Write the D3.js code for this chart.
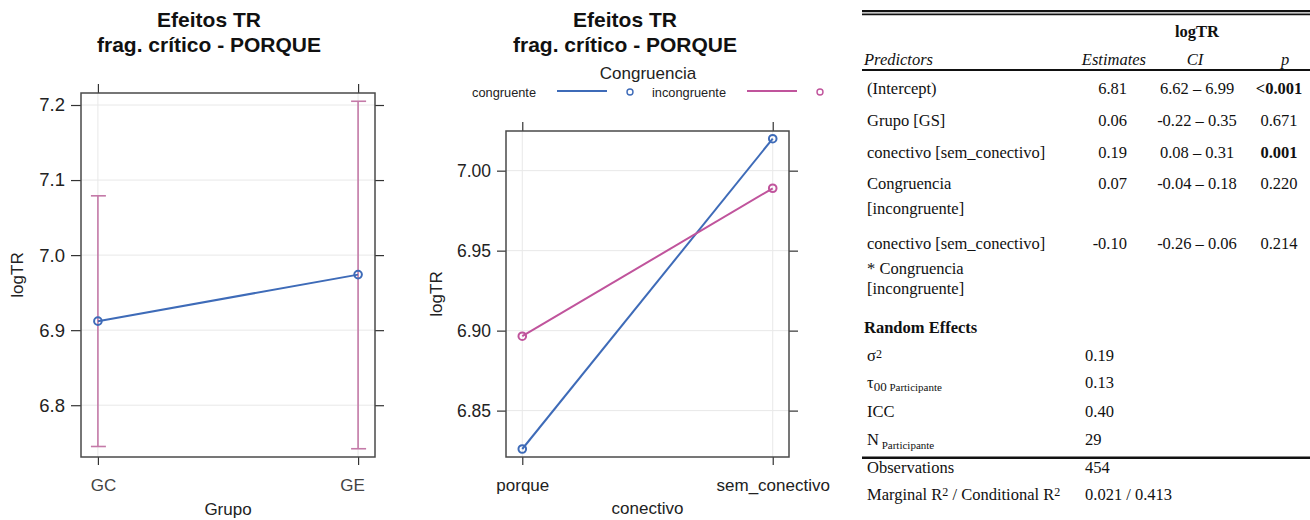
<!DOCTYPE html>
<html>
  <head>
    <style>
      body { margin: 0; background: #fff; }
      svg { display: block; }
      .tick text { font-family: "Liberation Sans", Arial, sans-serif; }
    </style>
  </head>

  <body>

    <svg class="surface" width="1310" height="520"></svg>

    <script src="https://cdn.jsdelivr.net/npm/d3@7/dist/d3.min.js" charset="utf-8"></script>
    <script>

      // --- panel 1: Grupo effect
      const grupoCats = ['GC', 'GE']
      const grupoFit = [6.912, 6.974]
      const grupoLower = [6.745, 6.742]
      const grupoUpper = [7.079, 7.205]
      const grupoTicks = [6.8, 6.9, 7.0, 7.1, 7.2]
      const grupoRange = [6.731, 7.216]

      // --- panel 2: conectivo x Congruencia
      const conectivoCats = ['porque', 'sem_conectivo']
      const congLevels = ['congruente', 'incongruente']
      const congruenteFit = [6.826, 7.020]
      const incongruenteFit = [6.8965, 6.989]
      const conectivoTicks = [6.85, 6.90, 6.95, 7.00]
      const conectivoRange = [6.821, 7.0248]

      // --- model table
      const predictors = [
        ['(Intercept)'],
        ['Grupo [GS]'],
        ['conectivo [sem_conectivo]'],
        ['Congruencia', '[incongruente]'],
        ['conectivo [sem_conectivo]', '* Congruencia', '[incongruente]']
      ]
      const estimates = ['6.81', '0.06', '0.19', '0.07', '-0.10']
      const ciText = ['6.62 – 6.99', '-0.22 – 0.35', '0.08 – 0.31', '-0.04 – 0.18', '-0.26 – 0.06']
      const pText = ['<0.001', '0.671', '0.001', '0.220', '0.214']
      const pBold = [true, false, true, false, false]
      const randomValues = ['0.19', '0.13', '0.40', '29']
      const observations = '454'
      const r2Text = '0.021 / 0.413'

      const blue = '#3e6bb8'
      const pink = '#c0549c'
      const barPink = '#c47aa8'
      const gridCol = '#e8e8e8'
      const boxCol = '#4a4a4a'
      const sans = '"Liberation Sans", Arial, sans-serif'
      const serif = '"Liberation Serif", "Times New Roman", serif'

      const surface = d3.select('.surface')

      function title(cx) {
        const t = surface.append('text')
          .attr('text-anchor', 'middle')
          .attr('font-family', sans)
          .attr('font-weight', 'bold')
          .attr('font-size', 21)
          .attr('fill', '#111')
        t.append('tspan').attr('x', cx).attr('y', 27).text('Efeitos TR')
        t.append('tspan').attr('x', cx).attr('y', 52).text('frag. crítico - PORQUE')
      }

      function frame(g, box, x, y, ticks, fmt, fs, tlen) {
        // grid
        g.selectAll('.hgrid').data(ticks).enter().append('line')
          .attr('x1', box.l).attr('x2', box.r)
          .attr('y1', d => y(d)).attr('y2', d => y(d))
          .attr('stroke', gridCol)
        g.selectAll('.vgrid').data(x.domain()).enter().append('line')
          .attr('y1', box.t).attr('y2', box.b)
          .attr('x1', d => x(d)).attr('x2', d => x(d))
          .attr('stroke', gridCol)

        const left = g.append('g').attr('transform', `translate(${box.l},0)`)
          .call(d3.axisLeft(y).tickValues(ticks).tickFormat(d3.format(fmt)).tickSize(tlen).tickPadding(6))
        const right = g.append('g').attr('transform', `translate(${box.r},0)`)
          .call(d3.axisRight(y).tickValues(ticks).tickFormat('').tickSize(9))
        const top = g.append('g').attr('transform', `translate(0,${box.t})`)
          .call(d3.axisTop(x).tickFormat('').tickSize(9))
        const bottom = g.append('g').attr('transform', `translate(0,${box.b})`)
          .call(d3.axisBottom(x).tickSize(8).tickPadding(14))
        for (const a of [left, right, top, bottom]) {
          a.select('.domain').remove()
          a.selectAll('.tick line').attr('stroke', '#333').attr('stroke-width', 1.2)
        }
        left.selectAll('text').attr('font-size', fs).attr('fill', '#222')

        g.append('rect')
          .attr('x', box.l).attr('y', box.t)
          .attr('width', box.r - box.l).attr('height', box.b - box.t)
          .attr('fill', 'none').attr('stroke', boxCol).attr('stroke-width', 1.5)
        return bottom
      }

      function yTitle(g, xPos, yMid) {
        g.append('text')
          .attr('transform', `translate(${xPos},${yMid}) rotate(-90)`)
          .attr('text-anchor', 'middle')
          .attr('font-family', sans).attr('font-size', 17).attr('fill', '#222')
          .text('logTR')
      }

      // ============ panel 1
      {
        const box = { l: 81, r: 375, t: 93, b: 457 }
        const g = surface.append('g')
        const x = d3.scalePoint().domain(grupoCats).range([box.l, box.r]).padding(0.065)
        const y = d3.scaleLinear().domain(grupoRange).range([box.b, box.t])
        const bottom = frame(g, box, x, y, grupoTicks, '.1f', 18.5, 10)
        bottom.selectAll('text')
          .attr('font-family', '"Open Sans", sans-serif')
          .attr('font-size', 17).attr('fill', '#444')
          .attr('dx', (d, i) => i === 0 ? 5 : -6)

        // error bars
        const bars = g.selectAll('.bar').data(grupoCats).enter().append('g')
        bars.append('line')
          .attr('x1', d => x(d)).attr('x2', d => x(d))
          .attr('y1', (d, i) => y(grupoLower[i])).attr('y2', (d, i) => y(grupoUpper[i]))
          .attr('stroke', barPink).attr('stroke-width', 1.6)
        for (const arr of [grupoLower, grupoUpper]) {
          bars.append('line')
            .attr('x1', d => x(d) - 7).attr('x2', d => x(d) + 8)
            .attr('y1', (d, i) => y(arr[i])).attr('y2', (d, i) => y(arr[i]))
            .attr('stroke', barPink).attr('stroke-width', 1.6)
        }

        const line = d3.line().x(d => x(d.c)).y(d => y(d.v))
        const pts = grupoCats.map((c, i) => ({ c, v: grupoFit[i] }))
        g.append('path').attr('d', line(pts))
          .attr('fill', 'none').attr('stroke', blue).attr('stroke-width', 2)
        g.selectAll('.pt').data(pts).enter().append('circle')
          .attr('cx', d => x(d.c)).attr('cy', d => y(d.v)).attr('r', 3.8)
          .attr('fill', 'none').attr('stroke', blue).attr('stroke-width', 2)

        yTitle(g, 23, (box.t + box.b) / 2)
        g.append('text').attr('x', (box.l + box.r) / 2).attr('y', 515)
          .attr('text-anchor', 'middle')
          .attr('font-family', sans).attr('font-size', 17).attr('fill', '#222')
          .text('Grupo')
        title(209)
      }

      // ============ panel 2
      {
        const box = { l: 506, r: 789, t: 131, b: 457 }
        const g = surface.append('g')
        const x = d3.scalePoint().domain(conectivoCats).range([box.l, box.r]).padding(0.065)
        const y = d3.scaleLinear().domain(conectivoRange).range([box.b, box.t])
        const bottom = frame(g, box, x, y, conectivoTicks, '.2f', 17.5, 9)
        bottom.selectAll('text')
          .attr('font-size', 17).attr('fill', '#222')

        const series = [
          { name: congLevels[0], vals: congruenteFit, col: blue },
          { name: congLevels[1], vals: incongruenteFit, col: pink }
        ]
        const line = d3.line().x((d, i) => x(conectivoCats[i])).y(d => y(d))
        g.selectAll('.series').data(series).enter().append('path')
          .attr('d', d => line(d.vals))
          .attr('fill', 'none').attr('stroke', d => d.col).attr('stroke-width', 2)
        series.forEach(s => {
          g.selectAll(null).data(s.vals).enter().append('circle')
            .attr('cx', (d, i) => x(conectivoCats[i])).attr('cy', d => y(d)).attr('r', 3.8)
            .attr('fill', 'none').attr('stroke', s.col).attr('stroke-width', 2)
        })

        yTitle(g, 442, (box.t + box.b) / 2)
        g.append('text').attr('x', (box.l + box.r) / 2).attr('y', 514)
          .attr('text-anchor', 'middle')
          .attr('font-family', sans).attr('font-size', 17).attr('fill', '#222')
          .text('conectivo')

        // legend
        g.append('text').attr('x', 648).attr('y', 79)
          .attr('text-anchor', 'middle')
          .attr('font-family', sans).attr('font-size', 17).attr('fill', '#222')
          .text('Congruencia')
        const leg = g.selectAll('.leg').data(series).enter().append('g')
          .attr('transform', (d, i) => `translate(${i === 0 ? 0 : 190},0)`)
        leg.append('text').attr('x', (d, i) => i === 0 ? 472 : 462).attr('y', 97)
          .attr('font-family', sans).attr('font-size', 12.8).attr('fill', '#222')
          .text(d => d.name)
        leg.append('line').attr('x1', 557).attr('x2', 607).attr('y1', 91).attr('y2', 91)
          .attr('stroke', d => d.col).attr('stroke-width', 2)
        leg.append('circle').attr('cx', 630).attr('cy', 92).attr('r', 3)
          .attr('fill', 'none').attr('stroke', d => d.col).attr('stroke-width', 1.4)

        title(625)
      }

      // ============ table
      {
        const g = surface.append('g').attr('font-family', serif).attr('font-size', 16.5).attr('fill', '#111')
        const L = 862, R = 1310, tx = 867
        const hline = (yy, w) => g.append('line').attr('x1', L).attr('x2', R)
          .attr('y1', yy).attr('y2', yy).attr('stroke', '#111').attr('stroke-width', w)
        hline(11.2, 2.3)
        hline(14.4, 1.6)
        hline(70, 2)
        hline(457.7, 2.5)

        g.append('text').attr('x', 1197).attr('y', 37).attr('text-anchor', 'middle')
          .attr('font-weight', 'bold').text('logTR')
        const head = g.append('g').attr('font-style', 'italic')
        head.append('text').attr('x', 864).attr('y', 65).text('Predictors')
        head.append('text').attr('x', 1146).attr('y', 65).attr('text-anchor', 'end').text('Estimates')
        head.append('text').attr('x', 1195).attr('y', 65).attr('text-anchor', 'middle').text('CI')
        head.append('text').attr('x', 1285).attr('y', 65).attr('text-anchor', 'middle').text('p')

        const rowY = [94, 126, 158, 189, 249]
        const lineOff = [0, 25, 45]
        const rows = g.selectAll('.row').data(predictors).enter().append('g')
          .attr('transform', (d, i) => `translate(0,${rowY[i]})`)
        rows.append('text').each(function (d) {
          const t = d3.select(this)
          d.forEach((s, k) => t.append('tspan').attr('x', tx).attr('y', lineOff[k]).text(s))
        })
        rows.append('text').attr('x', 1127).attr('text-anchor', 'end').text((d, i) => estimates[i])
        rows.append('text').attr('x', 1197).attr('text-anchor', 'middle').text((d, i) => ciText[i])
        rows.append('text').attr('x', 1279).attr('text-anchor', 'middle')
          .attr('font-weight', (d, i) => pBold[i] ? 'bold' : 'normal')
          .text((d, i) => pText[i])

        g.append('text').attr('x', 864).attr('y', 333).attr('font-weight', 'bold').text('Random Effects')

        const sub = 11
        const s2 = g.append('text').attr('x', tx).attr('y', 361)
        s2.append('tspan').text('σ')
        s2.append('tspan').attr('font-size', 12).attr('dy', -3).text('2')
        const tau = g.append('text').attr('x', tx).attr('y', 388)
        tau.append('tspan').text('τ')
        tau.append('tspan').attr('font-size', 13).attr('dy', 3).text('00')
        tau.append('tspan').attr('font-size', sub).text(' Participante')
        g.append('text').attr('x', tx).attr('y', 417).text('ICC')
        const nn = g.append('text').attr('x', tx).attr('y', 445)
        nn.append('tspan').text('N')
        nn.append('tspan').attr('font-size', sub).attr('dy', 4).text(' Participante')

        const ry = [361, 388, 417, 445]
        g.selectAll('.rv').data(randomValues).enter().append('text')
          .attr('x', 1085).attr('y', (d, i) => ry[i]).text(d => d)

        g.append('text').attr('x', tx).attr('y', 473).text('Observations')
        g.append('text').attr('x', 1085).attr('y', 473).text(observations)
        const r2 = g.append('text').attr('x', tx).attr('y', 500)
        r2.append('tspan').text('Marginal R')
        r2.append('tspan').attr('font-size', 12).attr('dy', -4).text('2')
        r2.append('tspan').attr('dy', 4).text(' / Conditional R')
        r2.append('tspan').attr('font-size', 12).attr('dy', -4).text('2')
        g.append('text').attr('x', 1085).attr('y', 500).text(r2Text)
      }

    </script>
  </body>

</html>
